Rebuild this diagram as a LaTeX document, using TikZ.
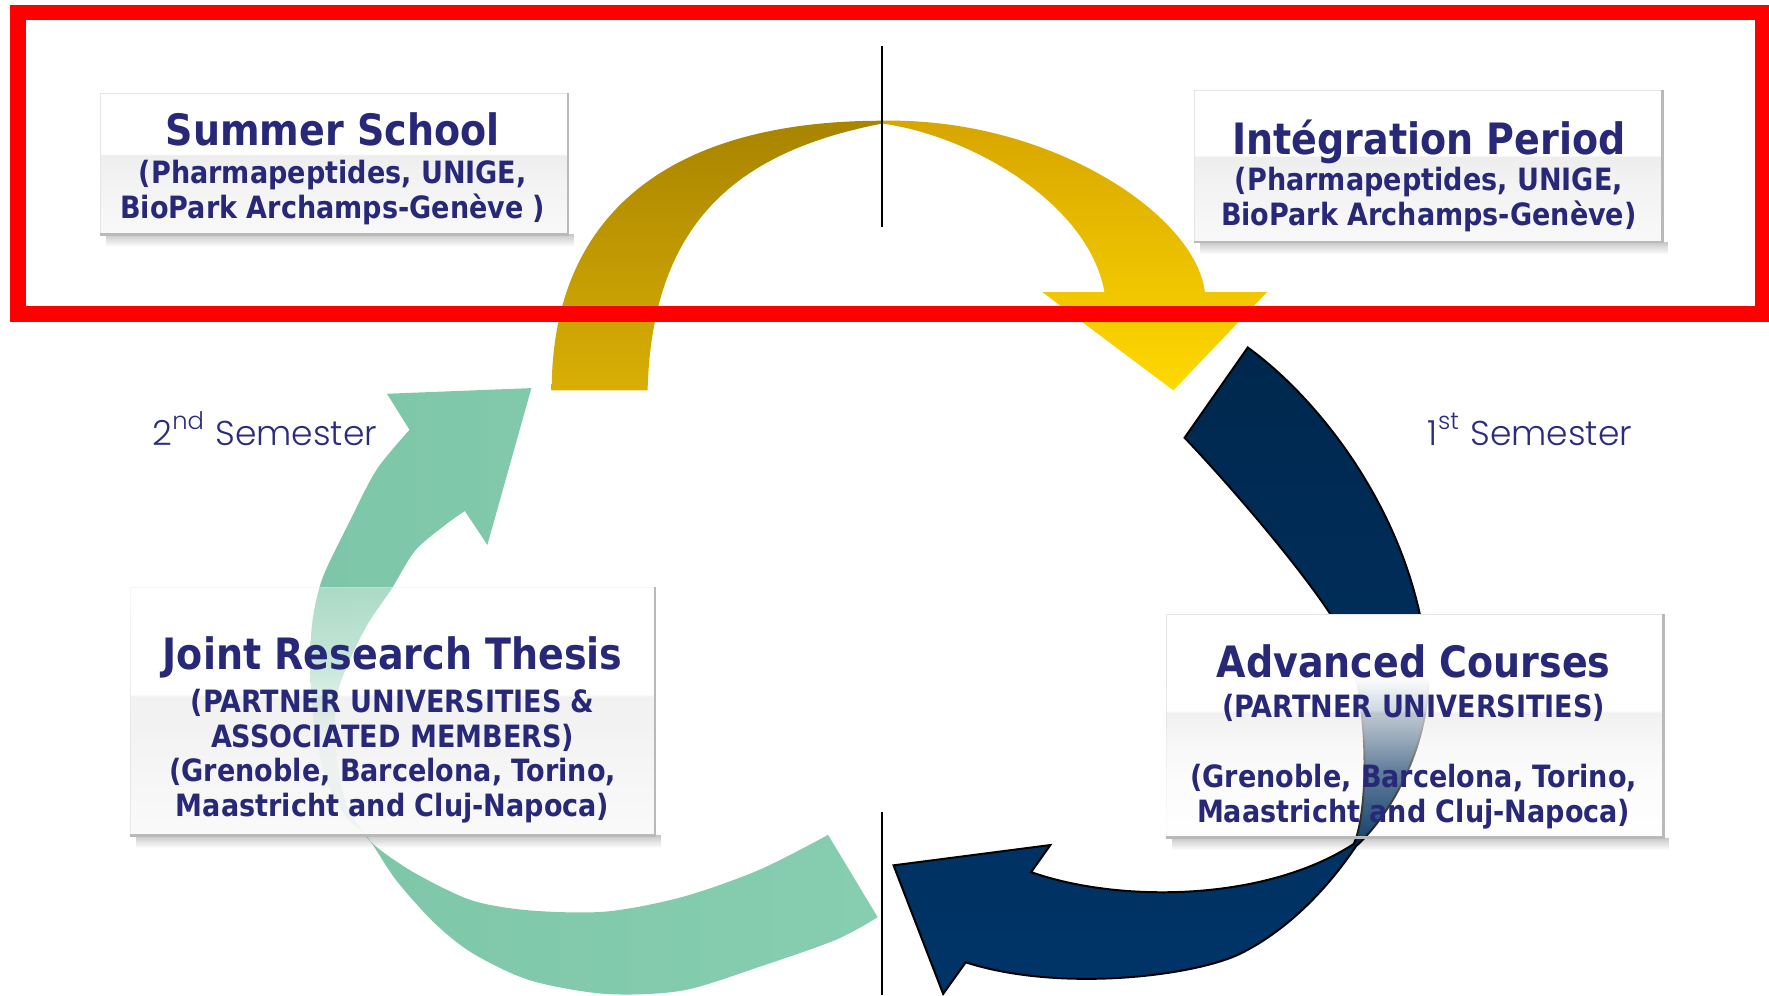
\documentclass[tikz,border=0pt]{standalone}
\usepackage{fontspec}
\setmainfont{DejaVu Sans}[FakeStretch=0.88]
\IfFontExistsTF{Poppins Light}
  {\newfontfamily\semfont{Poppins Light}}
  {\newfontfamily\semfont{Poppins}}
\usepackage{xcolor}
\usepackage{tikz}
\usetikzlibrary{positioning,fadings}

\definecolor{titleblue}{RGB}{40,40,120}
\definecolor{semblue}{RGB}{44,44,126}
\definecolor{goldtopL}{RGB}{168,132,0}
\definecolor{goldbotL}{RGB}{217,175,5}
\definecolor{goldtopR}{RGB}{214,165,0}
\definecolor{goldbotR}{RGB}{255,217,0}
\definecolor{mint}{RGB}{134,206,175}
\definecolor{mintdark}{RGB}{126,198,168}
\definecolor{navytop}{RGB}{0,40,78}
\definecolor{navybot}{RGB}{0,52,104}

\newcommand{\boxtitlefont}{\fontsize{10.9pt}{8.82pt}\selectfont\bfseries}
\newcommand{\boxsubfont}{\fontsize{7.75pt}{8.82pt}\selectfont\bfseries}

% glossy fill of the boxes: white top half, light grey lower half
\pgfdeclareverticalshading{boxgloss}{100bp}{color(0bp)=(gray!5); color(25bp)=(gray!5); color(45bp)=(gray!10); color(53bp)=(gray!14); color(53.5bp)=(white); color(100bp)=(white)}
% see-through boxes (white = opaque, black = clear)
\pgfdeclareverticalshading{glasstopshade}{100bp}{color(0bp)=(white!90!black); color(25bp)=(white!90!black); color(45bp)=(white!96!black); color(60bp)=(white!55!black); color(75bp)=(white!35!black); color(100bp)=(white!35!black)}
\pgfdeclarefading{glasstop}{\pgfuseshading{glasstopshade}}
\pgfdeclareverticalshading{glassbottomshade}{100bp}{color(0bp)=(white!10!black); color(25bp)=(white!10!black); color(40bp)=(white!40!black); color(50bp)=(white!72!black); color(61bp)=(white); color(100bp)=(white)}
\pgfdeclarefading{glassbottom}{\pgfuseshading{glassbottomshade}}

\begin{document}
\begin{tikzpicture}[x=0.1mm, y=-0.1mm,
    glassbox/.style={rectangle, inner sep=0pt, shade, shading=boxgloss, draw=gray!20, line width=0.3pt},
    boxedge/.style={gray!55, line width=0.7pt},
    boxshadow/.style={black, opacity=0.22, path fading=south},
    boxtext/.style={align=center, anchor=north, inner sep=0pt, text=titleblue, font=\boxsubfont},
    semlabel/.style={anchor=base west, inner sep=0pt, text=semblue, font=\semfont\fontsize{8.7pt}{10pt}\selectfont},
    divider/.style={black, line width=0.5pt},
    redframe/.style={red, line width=1.4mm}
]
    \useasboundingbox (0,0) rectangle (1568,882);

    % Gold arrow (two halves meeting at the top)
    \shade[top color=goldtopL, bottom color=goldbotL]
        (489,346) .. controls (489,191) and (592,107) .. (782,107)
        -- (782,109.5) .. controls (650,135) and (578,200) .. (574,346) -- cycle;
    \shade[top color=goldtopR, bottom color=goldbotR]
        (782,107) .. controls (930,104) and (1060,190) .. (1068,259)
        -- (1123,259) -- (1040,346) -- (924,259) -- (979,259)
        .. controls (965,180) and (860,120) .. (782,109.5) -- cycle;

    % Navy arrow
    \shadedraw[top color=navytop, bottom color=navybot, draw=black, line width=0.5pt]
        (1106,308) .. controls (1175,358) and (1260,470) .. (1266,601)
        .. controls (1266,660) and (1235,720) .. (1202,750)
        .. controls (1175,790) and (1140,825) .. (1100,845)
        .. controls (1060,865) and (940,880) .. (856,853)
        -- (836,881) -- (792,767) -- (931,749) -- (914,773)
        .. controls (990,800) and (1120,800) .. (1200,748)
        .. controls (1215,715) and (1215,590) .. (1179,544)
        .. controls (1150,500) and (1090,430) .. (1050,388)
        -- cycle;

    % Mint arrow
    \shade[left color=mintdark, right color=mint]
        plot[smooth] coordinates {(363,381) (334,416) (310,462) (286,512) (277,550) (275,590) (278,640) (288,688) (305,722) (325,741) (351,780) (385,818) (419,845) (470,869) (537,881) (605,878) (673,857) (741,833) (778,813)}
        -- (734,740)
        -- plot[smooth] coordinates {(734,740) (673,771) (605,795) (537,808) (470,807) (418,798) (368,774) (334,751) (320,735) (308,715) (300,685) (297,650) (299,615) (310,585) (326,553) (347,522) (368,488) (395,465) (412,453)}
        -- (432,483) -- (471,344) -- (343,349) -- cycle;

    % Boxes
    \node[glassbox, minimum width=41.4mm, minimum height=12.4mm] (summerbox) at (296,145) {};
    \node[glassbox, minimum width=41.4mm, minimum height=13.4mm] (integbox) at (1266,147) {};
    \node[glassbox, minimum width=46.4mm, minimum height=21.9mm, path fading=glasstop] (thesisbox) at (348,630.5) {};
    \node[glassbox, minimum width=44mm, minimum height=19.7mm, path fading=glassbottom] (coursebox) at (1254,643.5) {};

    % Box edges and shadows
    \foreach \b in {summerbox,integbox,thesisbox,coursebox} {
        \fill[boxshadow] ([xshift=0.5mm]\b.south west) rectangle ([xshift=0.5mm, yshift=-1.1mm]\b.south east);
        \draw[boxedge] (\b.north east) -- (\b.south east) -- (\b.south west);
    }

    % Box texts
    \node[boxtext] (summer) at (295,99.4) {{\boxtitlefont Summer School}\\[0.6pt]
        (Pharmapeptides, UNIGE,\\BioPark Archamps-Genève )};
    \node[boxtext] (integ) at (1266.5,105.4) {{\boxtitlefont Intégration Period}\\[0.3pt]
        (Pharmapeptides, UNIGE,\\BioPark Archamps-Genève)};
    \node[boxtext] (thesis) at (348,563.3) {{\boxtitlefont Joint Research Thesis}\\[2pt]
        (PARTNER UNIVERSITIES \&\\ASSOCIATED MEMBERS)\\(Grenoble, Barcelona, Torino,\\Maastricht and Cluj-Napoca)};
    \node[boxtext] (courses) at (1253,571) {{\boxtitlefont Advanced Courses}\\[1.1pt]
        (PARTNER UNIVERSITIES)\\[8.82pt](Grenoble, Barcelona, Torino,\\Maastricht and Cluj-Napoca)};

    % Semester labels
    \node[semlabel] (sem2) at (134.5,394.5) {2\textsuperscript{nd} Semester};
    \node[semlabel] (sem1) at (1265,394.5) {1\textsuperscript{st} Semester};

    % Year dividers
    \draw[divider] (781.5,41) -- (781.5,201);
    \draw[divider] (781.5,720) -- (781.5,882);

    % Highlight frame
    \draw[redframe] (16,11) rectangle (1563,278.5);
\end{tikzpicture}
\end{document}
